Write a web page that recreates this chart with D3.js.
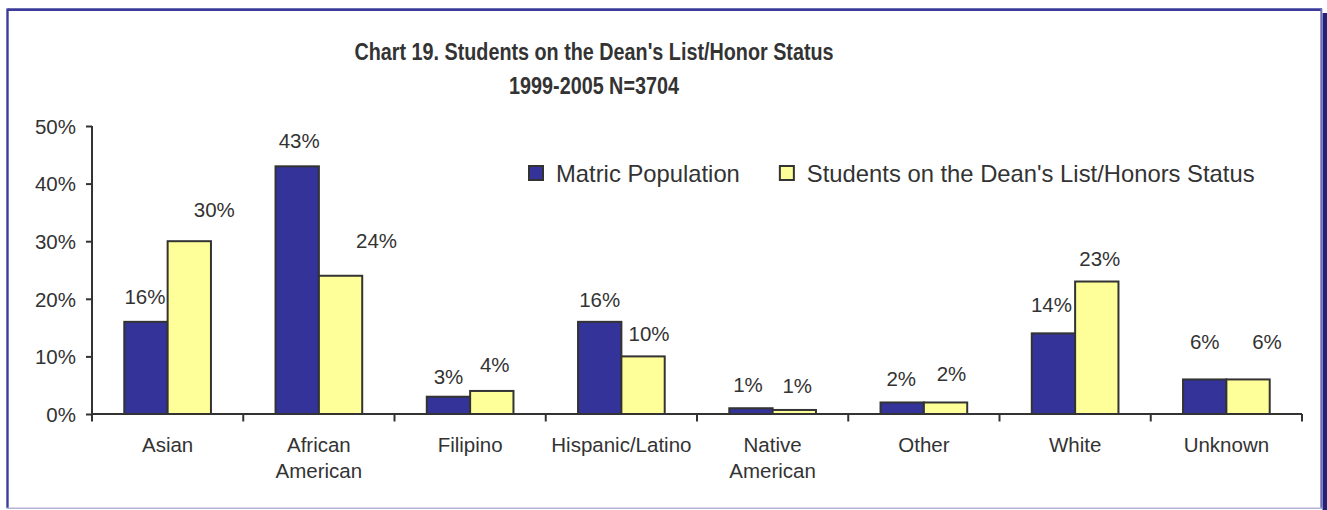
<!DOCTYPE html>
<html>
<head>
<meta charset="utf-8">
<script src="https://cdn.jsdelivr.net/npm/d3@7"></script>
<style>
  html, body { margin: 0; padding: 0; background: #fff; }
  svg { display: block; font-family: "Liberation Sans", Arial, sans-serif; }
</style>
</head>
<body>
<svg id="chart" width="1327" height="510"></svg>
<script>
// ---- data ----
const categories = ["Asian", "African American", "Filipino", "Hispanic/Latino",
                    "Native American", "Other", "White", "Unknown"];
const seriesNames = ["Matric Population", "Students on the Dean's List/Honors Status"];
const matricPopulation = [16, 43, 3, 16, 1, 2, 14, 6];
const deansList        = [30, 24, 4, 10, 0.7, 2, 23, 6];
const yTicks = [0, 10, 20, 30, 40, 50];
const titleLines = ["Chart 19. Students on the Dean's List/Honor Status", "1999-2005 N=3704"];

// ---- layout / style ----
const colors = ["#333399", "#FFFF99"];
const ink = "#333333";
const plot = { left: 92, right: 1302, top: 126, bottom: 414 };
// label nudges (px) relative to the top-centre of each bar
const labelShift = [
  { dx: [-1, 2, 0, 0, -3, -1, -2, 0], dy: [18, 18, 13, 15, 16, 16, 21, 30] },
  { dx: [25, 36, 3, 6, 3, 6, 3, 19],  dy: [24, 28, 19, 15, 17, 21, 16, 30] }
];

const svg = d3.select("#chart");

// frame with a drop shadow on the right
svg.append("rect").attr("x", 1322.5).attr("y", 13).attr("width", 4.5).attr("height", 497)
  .attr("fill", "#23237a");
svg.append("line").attr("x1", 7.5).attr("x2", 1322).attr("y1", 9.6).attr("y2", 9.6)
  .attr("stroke", "#3b3b9c").attr("stroke-width", 2.6);
svg.append("line").attr("x1", 7.5).attr("x2", 7.5).attr("y1", 8.5).attr("y2", 508)
  .attr("stroke", "#3b3b9c").attr("stroke-width", 2.4);
svg.append("line").attr("x1", 1321.3).attr("x2", 1321.3).attr("y1", 8.5).attr("y2", 508)
  .attr("stroke", "#6f6fb4").attr("stroke-width", 2);
svg.append("line").attr("x1", 6.5).attr("x2", 1322).attr("y1", 508.3).attr("y2", 508.3)
  .attr("stroke", "#b3b3da").attr("stroke-width", 1.6);

// title (condensed bold)
const titleG = svg.append("g").attr("transform", "translate(594,0) scale(0.86,1)");
titleG.selectAll("text").data(titleLines).join("text")
  .attr("x", 0).attr("y", (d, i) => 60 + i * 34)
  .attr("text-anchor", "middle")
  .attr("font-size", 23).attr("font-weight", "bold").attr("fill", ink)
  .text(d => d);

// scales
const x0 = d3.scaleBand().domain(categories).range([plot.left, plot.right]).padding(0);
const x1 = d3.scaleBand().domain(seriesNames).range([0, x0.bandwidth()])
  .paddingInner(0).paddingOuter(0.745);
const y = d3.scaleLinear().domain([0, 50]).range([plot.bottom, plot.top]);

const seriesValues = [matricPopulation, deansList];

// bars
seriesValues.forEach((vals, s) => {
  svg.append("g").selectAll("rect").data(vals).join("rect")
    .attr("x", (d, i) => x0(categories[i]) + x1(seriesNames[s]))
    .attr("y", d => y(d))
    .attr("width", x1.bandwidth())
    .attr("height", d => y(0) - y(d))
    .attr("fill", colors[s])
    .attr("stroke", ink).attr("stroke-width", 2);
});

// y axis
const yAxis = d3.axisLeft(y).tickValues(yTicks).tickSize(6).tickPadding(10)
  .tickFormat(d => d + "%");
const yG = svg.append("g").attr("transform", `translate(${plot.left},0)`).call(yAxis);
yG.select(".domain").remove();
yG.append("line").attr("x1", 0).attr("x2", 0).attr("y1", plot.top).attr("y2", plot.bottom + 7.5)
  .attr("stroke", ink).attr("stroke-width", 2);
yG.selectAll(".tick line").attr("stroke", ink).attr("stroke-width", 2);
yG.selectAll(".tick text").attr("fill", ink).attr("font-size", 20.5)
  .attr("font-family", "Liberation Sans, Arial, sans-serif").attr("dy", "0.36em");

// x axis baseline and category ticks
const xG = svg.append("g");
xG.append("line").attr("x1", plot.left).attr("x2", plot.right)
  .attr("y1", y(0)).attr("y2", y(0)).attr("stroke", ink).attr("stroke-width", 2);
const boundaries = categories.map(c => x0(c)).concat([x0(categories[categories.length - 1]) + x0.bandwidth()]);
xG.selectAll("line.cat").data(boundaries.slice(1)).join("line").attr("class", "cat")
  .attr("x1", d => d).attr("x2", d => d)
  .attr("y1", y(0)).attr("y2", y(0) + 7.5)
  .attr("stroke", ink).attr("stroke-width", 2);

// category labels (wrapped on the space for two-word names)
const catText = xG.selectAll("text.cat").data(categories).join("text").attr("class", "cat")
  .attr("text-anchor", "middle").attr("font-size", 20.5).attr("fill", ink);
catText.each(function (d) {
  const words = d.includes("/") ? [d] : d.split(" ");
  const cx = x0(d) + x0.bandwidth() / 2;
  d3.select(this).selectAll("tspan").data(words).join("tspan")
    .attr("x", cx).attr("y", (w, i) => 452 + i * 26).text(w => w);
});

// value labels
seriesValues.forEach((vals, s) => {
  svg.append("g").selectAll("text").data(vals).join("text")
    .attr("x", (d, i) => x0(categories[i]) + x1(seriesNames[s]) + x1.bandwidth() / 2 + labelShift[s].dx[i])
    .attr("y", (d, i) => y(d) - labelShift[s].dy[i])
    .attr("text-anchor", "middle").attr("font-size", 20.5).attr("fill", ink)
    .text(d => Math.round(d) + "%");
});

// legend
const legend = svg.append("g");
let lx = 528;
seriesNames.forEach((name, s) => {
  legend.append("rect").attr("x", lx + 1).attr("y", 166).attr("width", 14).attr("height", 14)
    .attr("fill", colors[s]).attr("stroke", ink).attr("stroke-width", 2);
  const t = legend.append("text").attr("x", lx + 28).attr("y", 181.5)
    .attr("font-size", 23.8).attr("fill", ink).text(name);
  lx = lx + 28 + t.node().getComputedTextLength() + 39;
});
</script>
</body>
</html>
